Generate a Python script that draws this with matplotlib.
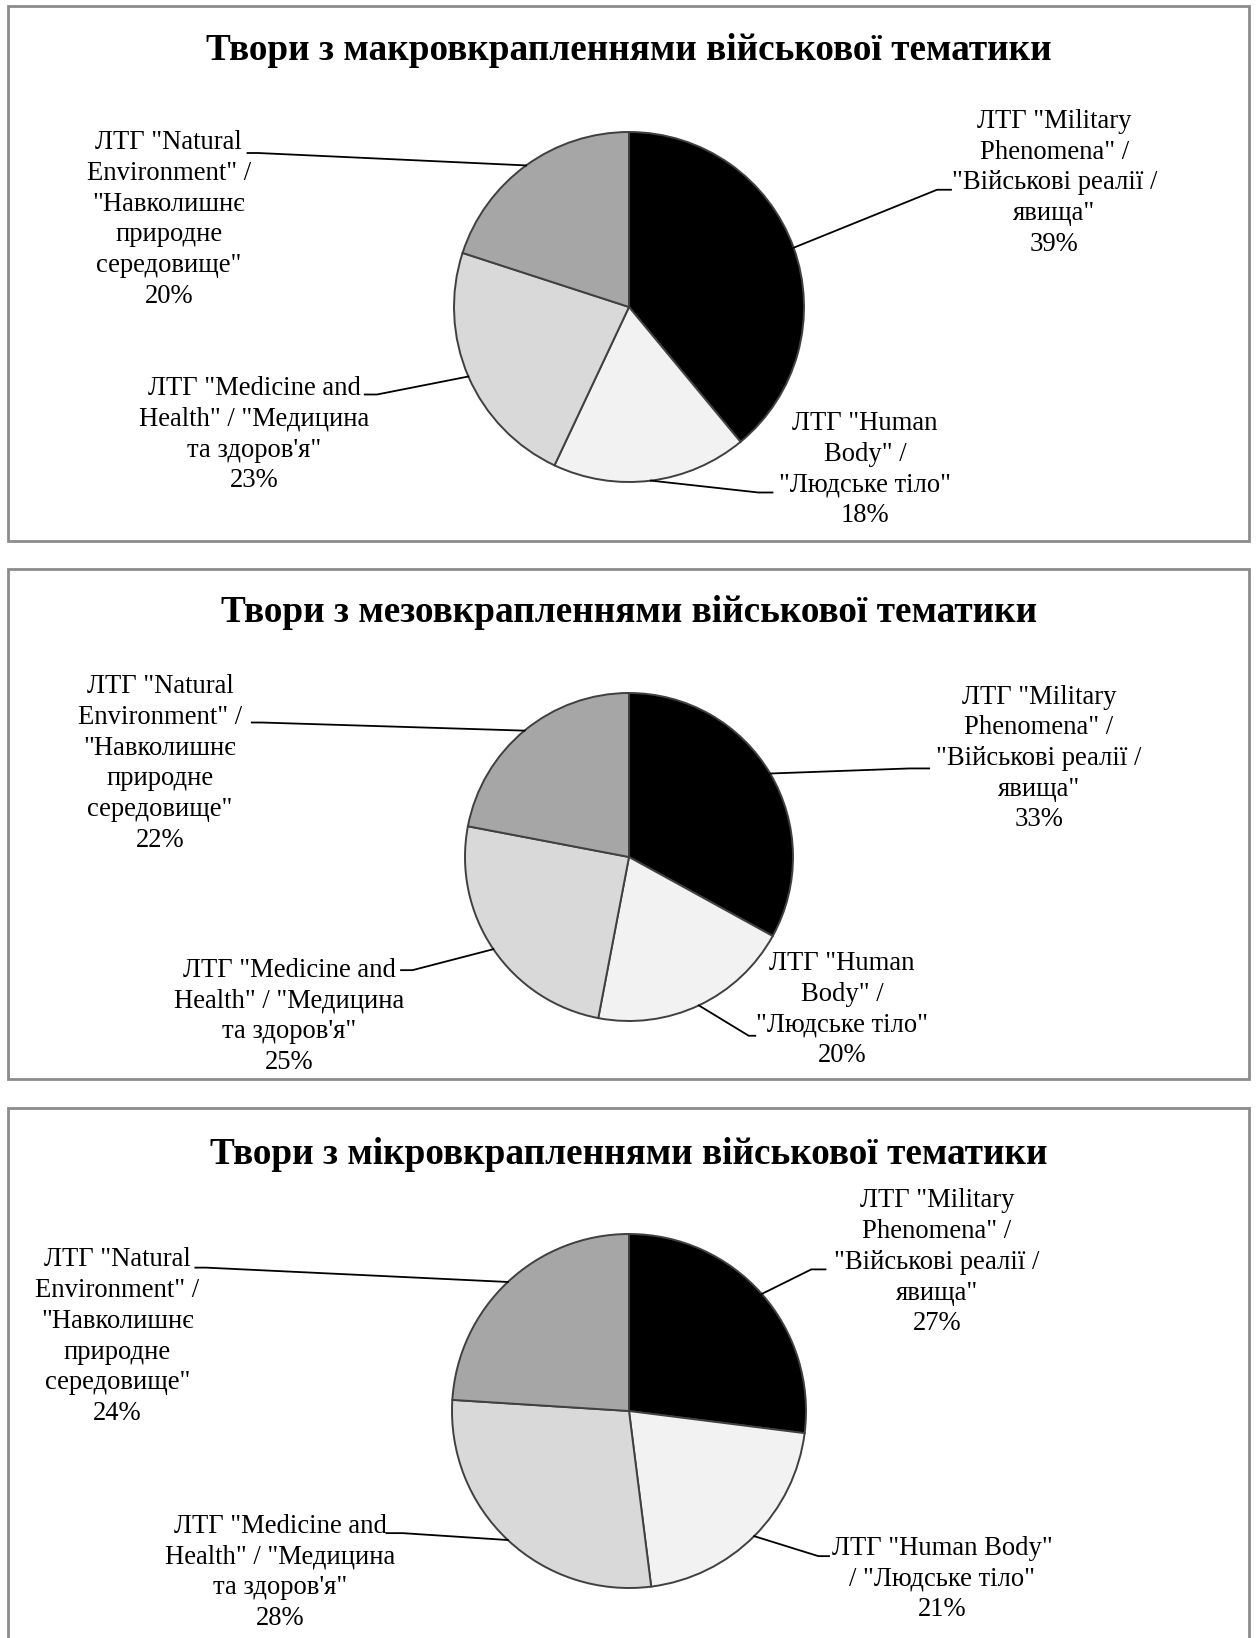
import numpy as np
import matplotlib
matplotlib.use('Agg')
from matplotlib import pyplot as plt
from matplotlib.patches import Rectangle

plt.rcParams['font.family'] = ['Liberation Serif', 'DejaVu Serif']

# categories (clockwise from 12 o'clock)
categories = ['Military', 'Human Body', 'Medicine', 'Natural']
colors = ['#000000', '#f2f2f2', '#d9d9d9', '#a6a6a6']

titles = [
    'Твори з макровкрапленнями військової тематики',
    'Твори з мезовкрапленнями військової тематики',
    'Твори з мікровкрапленнями військової тематики',
]

macro_values = [39, 18, 23, 20]
meso_values = [33, 20, 25, 22]
micro_values = [27, 21, 28, 24]

label_military = 'ЛТГ "Military\nPhenomena" /\n"Військові реалії /\nявища"'
label_human = 'ЛТГ "Human\nBody" /\n"Людське тіло"'
label_human_wide = 'ЛТГ "Human Body"\n/ "Людське тіло"'
label_medicine = 'ЛТГ "Medicine and\nHealth" / "Медицина\nта здоров\'я"'
label_natural = 'ЛТГ "Natural\nEnvironment" /\n"Навколишнє\nприродне\nсередовище"'

W, H = 1256, 1638
fig = plt.figure(figsize=(W / 100, H / 100), dpi=100)

# panel frames: (left, top, right, bottom) in pixels
frames = [(8, 6, 1249, 541), (8, 569, 1249, 1079), (8, 1108, 1249, 1660)]
for l, t, r, b in frames:
    fig.add_artist(Rectangle((l / W, 1 - b / H), (r - l) / W, (b - t) / H,
                             transform=fig.transFigure, fill=False,
                             edgecolor='#8c8c8c', linewidth=2))

title_y = [51, 613, 1154]
for t, ty in zip(titles, title_y):
    fig.text(629 / W, 1 - ty / H, t, ha='center', va='center',
             fontsize=26.8, fontweight='bold')

# pie centre and radius in pixels
pies = [(629, 307, 175), (629, 857, 164), (629, 1411, 177)]
all_values = [macro_values, meso_values, micro_values]
all_labels = [
    [label_military, label_human, label_medicine, label_natural],
    [label_military, label_human, label_medicine, label_natural],
    [label_military, label_human_wide, label_medicine, label_natural],
]

# label layout in radius units: text centre, leader elbow, stub end
text_pos = [
    [(2.43, 0.71), (1.35, -0.93), (-2.14, -0.73), (-2.63, 0.50)],
    [(2.50, 0.60), (1.30, -0.93), (-2.07, -0.97), (-2.86, 0.57)],
    [(1.74, 0.84), (1.77, -0.95), (-1.97, -0.91), (-2.89, 0.42)],
]
elbows = [
    [(1.76, 0.67, 1.84), (0.74, -1.06, 0.82), (-1.44, -0.50, -1.51), (-2.12, 0.88, -2.18)],
    [(1.71, 0.54, 1.83), (0.73, -1.09, 0.77), (-1.32, -0.69, -1.39), (-2.24, 0.82, -2.30)],
    [(1.03, 0.80, 1.11), (1.07, -0.82, 1.13), (-1.28, -0.69, -1.37), (-2.39, 0.81, -2.45)],
]

for (cx, cy, rad), vals, labs, tpos, elb in zip(pies, all_values, all_labels, text_pos, elbows):
    ax = fig.add_axes([(cx - rad) / W, 1 - (cy + rad) / H, 2 * rad / W, 2 * rad / H])
    ax.pie(vals, colors=colors, startangle=90, counterclock=False, radius=1,
           wedgeprops=dict(edgecolor='#404040', linewidth=1.4))
    ax.set_xlim(-1, 1)
    ax.set_ylim(-1, 1)
    ax.axis('off')

    total = float(sum(vals))
    start = 0.0
    for v, lab, (tx, ty), (ex, ey, sx) in zip(vals, labs, tpos, elb):
        mid = np.deg2rad(90 - 360 * (start + v / 2) / total)
        start += v
        px, py = np.cos(mid), np.sin(mid)
        ax.plot([px, ex, sx], [py, ey, ey], color='black', linewidth=1.3,
                clip_on=False)
        ax.text(tx, ty, '%s\n%d%%' % (lab, v), ha='center', va='center',
                multialignment='center', fontsize=19.2, linespacing=1.3,
                clip_on=False)

plt.savefig('out.png', dpi=100)
